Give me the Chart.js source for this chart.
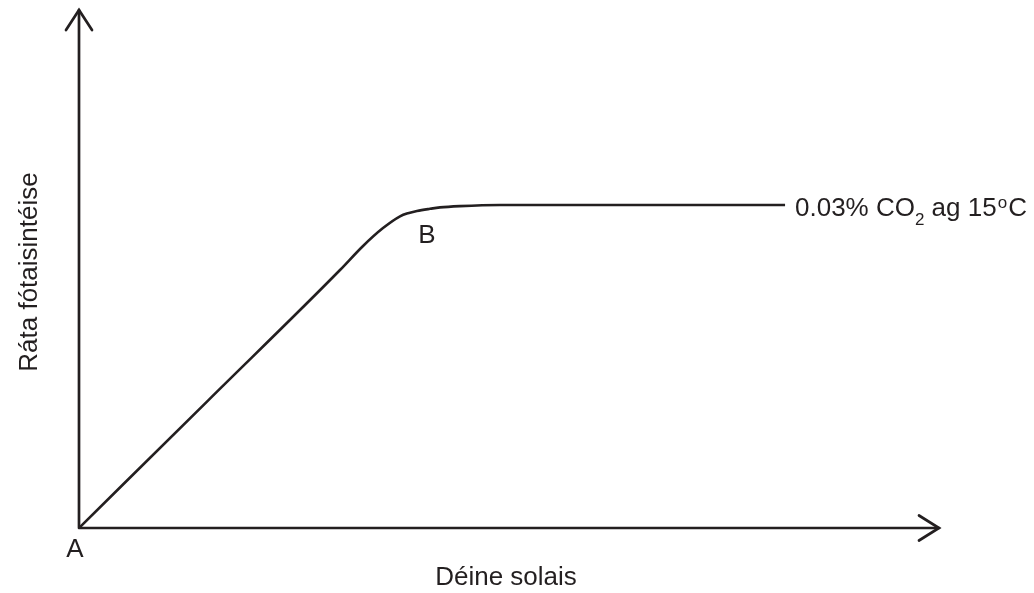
<!DOCTYPE html>
<html>
<head>
<meta charset="utf-8">
<script src="https://cdn.jsdelivr.net/npm/chart.js@4/dist/chart.umd.min.js"></script>
<style>
  html, body { margin: 0; padding: 0; background: #ffffff; }
  #wrap { width: 1034px; height: 593px; }
</style>
</head>
<body>
<div id="wrap"><canvas id="c" width="1034" height="593"></canvas></div>
<script>
// Data (axis units 0..100 on both axes)
const lightValues = [0, 15, 30.35, 33.0, 35.35, 37.33, 38.26, 39.3, 40.81, 41.98, 44.3, 48.95, 82.1];
const rateValues  = [0, 24.6, 49.8, 54.4, 57.9, 60.17, 60.77, 61.2, 61.62, 61.89, 62.14, 62.36, 62.36];
const xTitle = "Déine solais";
const yTitle = "Ráta fótaisintéise";
const pointLabelA = "A";
const pointLabelB = "B";
const seriesLabelParts = ["0.03% CO", "2", " ag 15", "o", "C"];

const INK = "#231f20";
const FONT = "'Liberation Sans', Arial, Helvetica, sans-serif";

const points = lightValues.map((x, i) => ({ x: x, y: rateValues[i] }));

const decor = {
  id: "decor",
  afterDraw(chart) {
    const ctx = chart.ctx;
    const xs = chart.scales.x, ys = chart.scales.y;
    const x0 = xs.getPixelForValue(0), xMax = xs.getPixelForValue(100);
    const y0 = ys.getPixelForValue(0), yMax = ys.getPixelForValue(100);
    ctx.save();
    ctx.strokeStyle = INK;
    ctx.fillStyle = INK;
    ctx.lineWidth = 2.7;
    ctx.lineCap = "round";
    ctx.lineJoin = "miter";
    // axes
    ctx.beginPath();
    ctx.moveTo(x0, y0); ctx.lineTo(x0, yMax);
    ctx.moveTo(x0, y0); ctx.lineTo(xMax, y0);
    ctx.stroke();
    // arrowheads
    ctx.beginPath();
    ctx.moveTo(x0 - 13, yMax + 20); ctx.lineTo(x0, yMax); ctx.lineTo(x0 + 13, yMax + 20);
    ctx.moveTo(xMax - 20, y0 - 12.5); ctx.lineTo(xMax, y0); ctx.lineTo(xMax - 20, y0 + 12.5);
    ctx.stroke();

    // text
    ctx.textBaseline = "alphabetic";
    ctx.font = "26px " + FONT;
    ctx.textAlign = "center";
    ctx.fillText(xTitle, 506, 585);
    ctx.fillText(pointLabelA, 75, 557);
    ctx.fillText(pointLabelB, 427, 243);

    ctx.save();
    ctx.translate(37, 272);
    ctx.rotate(-Math.PI / 2);
    ctx.textAlign = "center";
    ctx.fillText(yTitle, 0, 0);
    ctx.restore();

    // series label with subscript and superscript
    ctx.textAlign = "left";
    let tx = 795;
    const base = 216;
    const big = "26px " + FONT, small = "17px " + FONT;
    ctx.font = big; ctx.fillText(seriesLabelParts[0], tx, base); tx += ctx.measureText(seriesLabelParts[0]).width;
    ctx.font = small; ctx.fillText(seriesLabelParts[1], tx, base + 9); tx += ctx.measureText(seriesLabelParts[1]).width;
    ctx.font = big; ctx.fillText(seriesLabelParts[2], tx, base); tx += ctx.measureText(seriesLabelParts[2]).width + 1;
    ctx.font = small; ctx.fillText(seriesLabelParts[3], tx, base - 8); tx += ctx.measureText(seriesLabelParts[3]).width + 1;
    ctx.font = big; ctx.fillText(seriesLabelParts[4], tx, base);
    ctx.restore();
  }
};

new Chart(document.getElementById("c"), {
  type: "scatter",
  data: {
    datasets: [{
      data: points,
      showLine: true,
      borderColor: INK,
      borderWidth: 2.6,
      pointRadius: 0,
      pointHoverRadius: 0,
      fill: false,
      cubicInterpolationMode: "monotone"
    }]
  },
  options: {
    responsive: false,
    animation: false,
    devicePixelRatio: 1,
    layout: { padding: { left: 79, right: 1034 - 939, top: 10, bottom: 593 - 528 } },
    plugins: { legend: { display: false }, tooltip: { enabled: false }, title: { display: false } },
    scales: {
      x: { type: "linear", min: 0, max: 100, display: false },
      y: { type: "linear", min: 0, max: 100, display: false }
    }
  },
  plugins: [decor]
});
</script>
</body>
</html>
